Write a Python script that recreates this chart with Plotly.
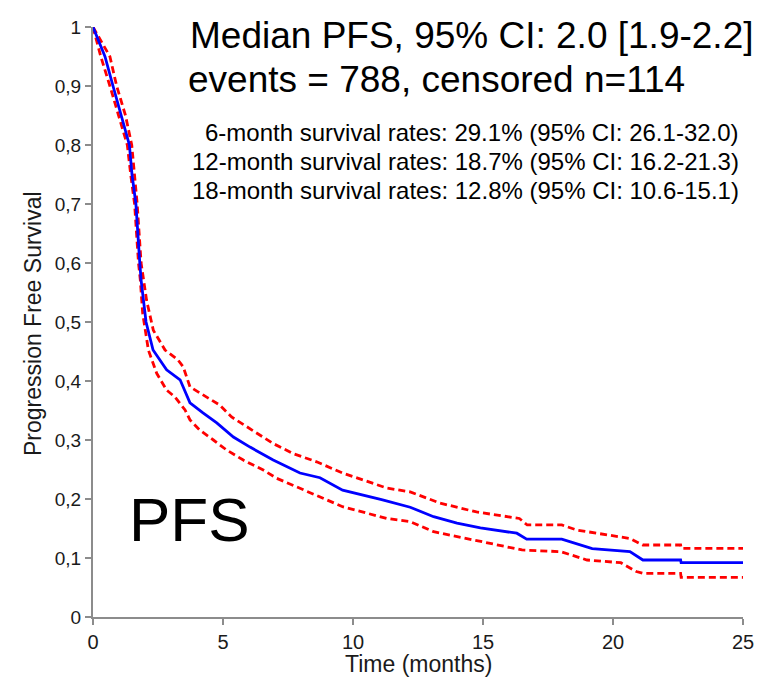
import plotly.graph_objects as go

# Kaplan-Meier PFS estimate (time in months, survival probability)
pfs_time = [0, 0.46, 0.77, 1.1, 1.40, 1.50, 1.65, 1.8, 1.85, 2.0, 2.04, 2.31, 2.83, 3.35, 3.47,
            3.73, 4.23, 4.76, 5.4, 6.04, 6.93, 7.96, 8.73, 9.6, 11.1, 12.2, 13.1, 14.0, 14.9,
            16.3, 16.68, 18.03, 19.2, 20.65, 21.15, 22.6, 22.62, 25]
pfs_surv = [1.0, 0.95, 0.90, 0.85, 0.80, 0.75, 0.70, 0.60, 0.571, 0.515, 0.50, 0.4525, 0.419, 0.402, 0.39,
            0.363, 0.346, 0.329, 0.305, 0.288, 0.266, 0.244, 0.236, 0.215, 0.199, 0.186, 0.170, 0.159, 0.151,
            0.142, 0.132, 0.132, 0.116, 0.111, 0.0966, 0.0966, 0.092, 0.092]

# Upper 95% confidence limit
upper_time = [0, 0.65, 0.91, 1.25, 1.49, 1.70, 1.85, 2.06, 2.32, 2.77, 3.27, 3.47, 3.73, 4.37, 4.88,
              5.33, 5.9, 6.93, 7.7, 8.6, 9.6, 11.3, 12.2, 13.35, 14.75, 16.4, 16.7, 18.03, 18.6,
              20.65, 21.15, 22.6, 22.62, 25]
upper_surv = [1.0, 0.95, 0.90, 0.85, 0.80, 0.70, 0.60, 0.537, 0.486, 0.4525, 0.4356, 0.424, 0.39, 0.373, 0.359,
              0.339, 0.3225, 0.294, 0.277, 0.263, 0.244, 0.2186, 0.212, 0.193, 0.178, 0.167, 0.156, 0.156, 0.1475,
              0.133, 0.122, 0.122, 0.1164, 0.1164]

# Lower 95% confidence limit
lower_time = [0, 0.3, 0.65, 1.0, 1.32, 1.45, 1.60, 1.75, 1.82, 1.91, 2.13, 2.45, 2.83, 3.15, 3.54,
              3.73, 4.1, 4.63, 5.14, 5.78, 6.55, 7.07, 7.96, 9.6, 11.3, 12.2, 13.1, 14.9, 16.5,
              18.0, 19.0, 20.3, 20.9, 21.15, 22.6, 22.62, 25]
lower_surv = [1.0, 0.95, 0.90, 0.85, 0.80, 0.75, 0.70, 0.60, 0.571, 0.515, 0.4525, 0.413, 0.3847, 0.373, 0.351,
              0.334, 0.317, 0.30, 0.283, 0.266, 0.249, 0.235, 0.218, 0.187, 0.167, 0.1616, 0.1446, 0.1277, 0.1136,
              0.1107, 0.0966, 0.092, 0.077, 0.074, 0.074, 0.0673, 0.0673]

y_tickvals = [0, 0.1, 0.2, 0.3, 0.4, 0.5, 0.6, 0.7, 0.8, 0.9, 1]
y_ticktext = ["0", "0,1", "0,2", "0,3", "0,4", "0,5", "0,6", "0,7", "0,8", "0,9", "1"]
x_tickvals = [0, 5, 10, 15, 20, 25]
x_ticktext = ["0", "5", "10", "15", "20", "25"]

title_lines = ["Median PFS, 95% CI: 2.0 [1.9-2.2]", "events = 788, censored n=114"]
rate_lines = ["6-month survival rates: 29.1% (95% CI: 26.1-32.0)",
              "12-month survival rates: 18.7% (95% CI: 16.2-21.3)",
              "18-month survival rates: 12.8% (95% CI: 10.6-15.1)"]

FONT = "Liberation Sans, Arial, sans-serif"
AXIS_GRAY = "#8c8c8c"
TXT = "#1a1a1a"

W, H = 760, 680
L, R, T, B = 93, 17, 27, 63
PW, PH = W - L - R, H - T - B


def px2paper(px, py):
    return (px - L) / PW, (H - B - py) / PH


fig = go.Figure()
dash_line = dict(color="#ff0000", width=2.8, dash="7px,4px")
fig.add_trace(go.Scatter(x=lower_time, y=lower_surv, mode="lines", line=dash_line, showlegend=False))
fig.add_trace(go.Scatter(x=upper_time, y=upper_surv, mode="lines", line=dash_line, showlegend=False))
fig.add_trace(go.Scatter(x=pfs_time, y=pfs_surv, mode="lines",
                         line=dict(color="#0000ff", width=2.8), showlegend=False))

fig.update_layout(
    width=W, height=H,
    margin=dict(l=L, r=R, t=T, b=B, autoexpand=False),
    paper_bgcolor="white", plot_bgcolor="white",
    font=dict(family=FONT, color=TXT),
    xaxis=dict(range=[0, 25], tickvals=x_tickvals, ticktext=x_ticktext, showgrid=False, zeroline=False,
               showline=True, linecolor=AXIS_GRAY, linewidth=2, ticks="outside", tickcolor=AXIS_GRAY,
               tickwidth=2, ticklen=6, tickfont=dict(size=20, color=TXT), automargin=False),
    yaxis=dict(range=[0, 1], tickvals=y_tickvals, ticktext=y_ticktext, showgrid=False, zeroline=False,
               showline=True, linecolor=AXIS_GRAY, linewidth=2, ticks="outside", tickcolor=AXIS_GRAY,
               tickwidth=2, ticklen=6, tickfont=dict(size=19, color=TXT), automargin=False),
)


def add_text(text, px, py, size, anchor="right", angle=0, color="black"):
    xp, yp = px2paper(px, py)
    fig.add_annotation(x=xp, y=yp, xref="paper", yref="paper", text=text, showarrow=False,
                       xanchor=anchor, yanchor="middle", textangle=angle,
                       font=dict(size=size, color=color, family=FONT))


add_text(title_lines[0], 756, 35, 37, "right")
add_text(title_lines[1], 186, 79, 37, "left")
for i, t in enumerate(rate_lines):
    add_text(t, 741, 132 + 29.5 * i, 24, "right")
add_text("PFS", 127, 519, 62, "left")
add_text("Progression Free Survival", 33, 324, 23, "center", angle=-90, color=TXT)
add_text("Time (months)", 418, 664, 23, "center", color=TXT)

fig.write_html("out.html")
